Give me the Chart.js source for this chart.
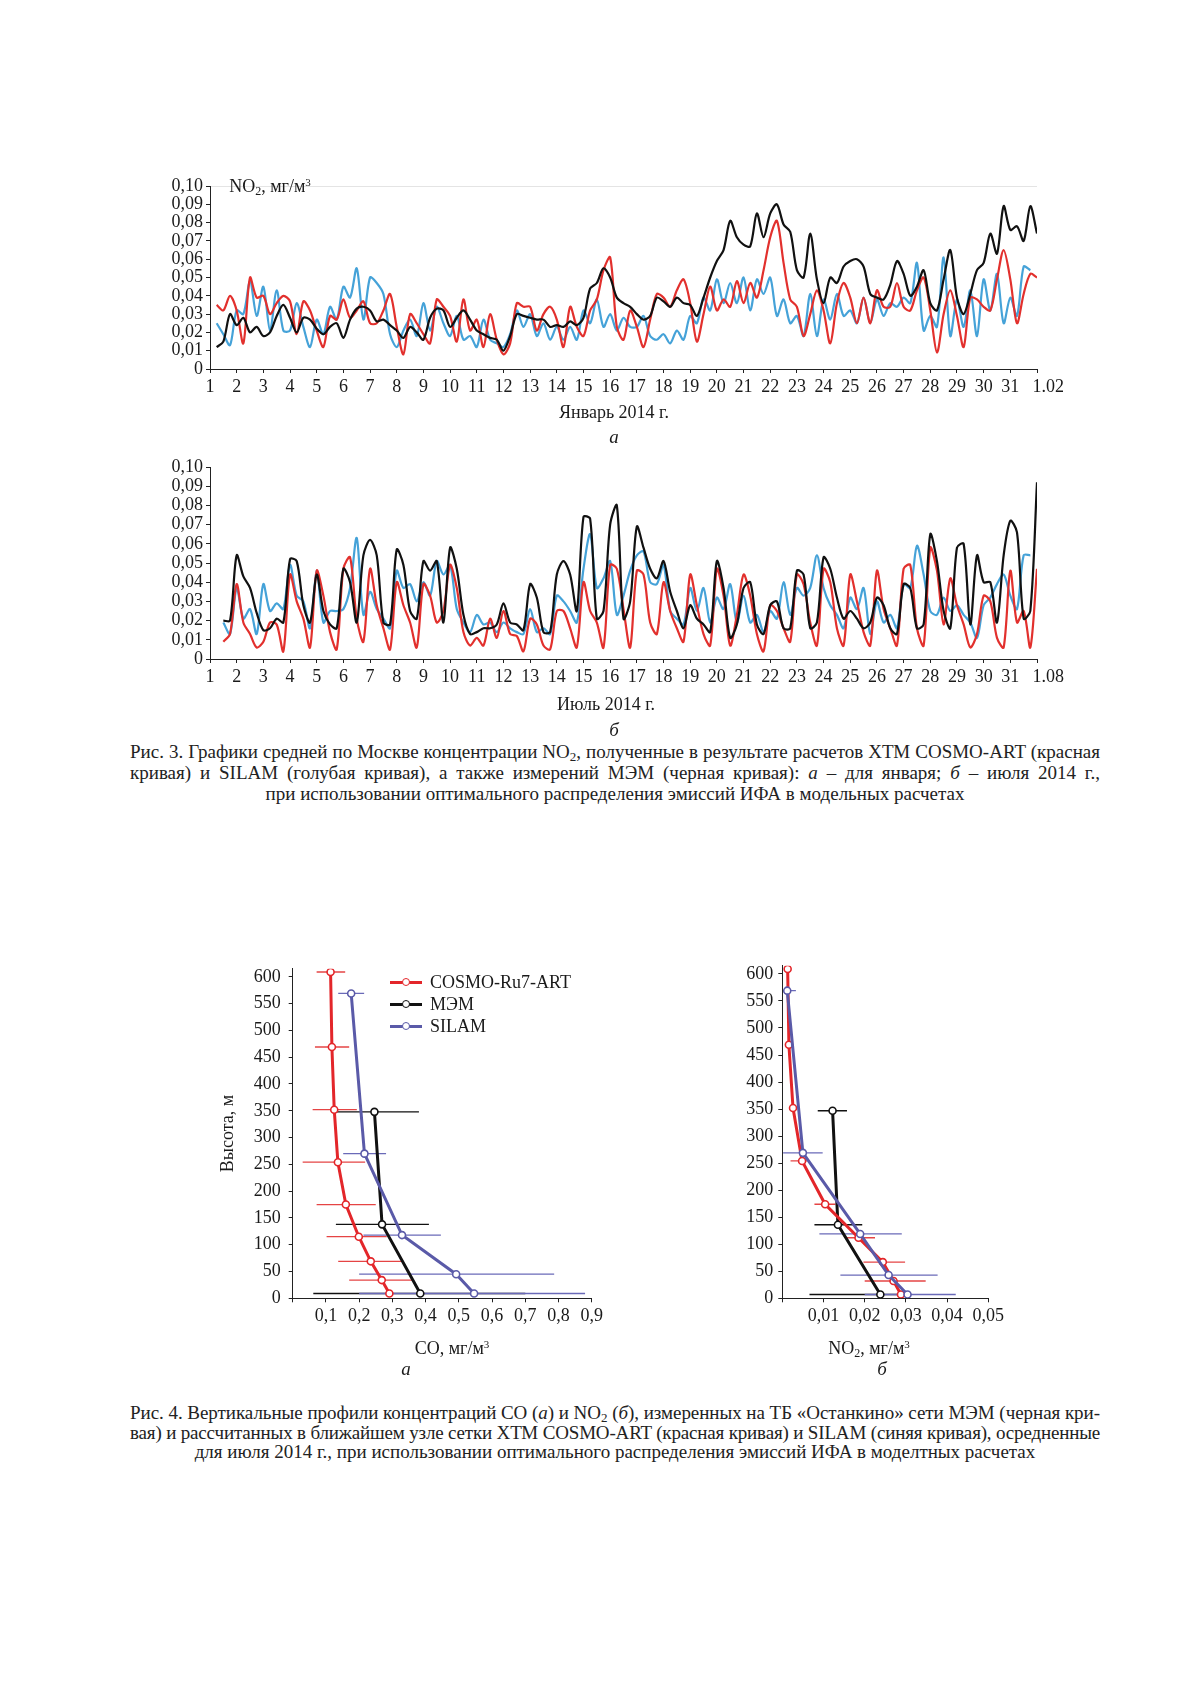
<!DOCTYPE html>
<html lang="ru">
<head>
<meta charset="utf-8">
<title>NO2 и CO, Москва 2014</title>
<script src="https://cdn.jsdelivr.net/npm/chart.js@4.4.1/dist/chart.umd.min.js"></script>
<style>
  html, body { margin: 0; padding: 0; background: #fff; }
  #page { position: relative; width: 1200px; height: 1698px; background: #fff; font-family: 'Liberation Serif', serif; color: #1a1a1a; }
  canvas { position: absolute; }
  .lbl { position: absolute; transform: translate(-50%, -50%); white-space: nowrap; font-size: 18px; line-height: 1; }
  .letter { font-style: italic; font-size: 19px; }
  sub, sup { line-height: 0; }
  .caption { position: absolute; left: 130px; width: 970px; font-size: 19px; color: #222; }
  .caption div { text-align: justify; text-align-last: justify; white-space: nowrap; }
  .caption div.last { text-align: center; text-align-last: center; }
  .caption sub { font-size: 13px; vertical-align: -3px; }
  #legend { position: absolute; left: 390px; top: 972px; font-size: 18px; }
  .lg { height: 21.7px; display: flex; align-items: center; }
  .sw { position: relative; width: 32px; height: 3px; margin-right: 8px; background: var(--c); }
  .sw::after { content: ''; position: absolute; left: 50%; top: 50%; width: 6px; height: 6px; margin: -4.5px 0 0 -4.5px;
               border: 1.5px solid var(--c); border-radius: 50%; background: #fff; }
</style>
</head>
<body>
<div id="page">
  <canvas id="janChart" width="940" height="260" style="left:150px;top:170px"></canvas>
  <span class="lbl" style="left:270px;top:186px">NO<sub style="font-size:12px;vertical-align:-3px">2</sub>, мг/м<sup style="font-size:11px;vertical-align:6px">3</sup></span>
  <span class="lbl" style="left:614px;top:412px">Январь 2014 г.</span>
  <span class="lbl letter" style="left:614px;top:436px">а</span>

  <canvas id="julChart" width="940" height="271" style="left:150px;top:451px"></canvas>
  <span class="lbl" style="left:606px;top:704px">Июль 2014 г.</span>
  <span class="lbl letter" style="left:614px;top:729px">б</span>

  <div class="caption" style="top:741px;line-height:21px">
    <div>Рис. 3. Графики средней по Москве концентрации NO<sub>2</sub>, полученные в результате расчетов ХТМ COSMO-ART (красная</div>
    <div>кривая) и SILAM (голубая кривая), а также измерений МЭМ (черная кривая): <i>а</i> – для января; <i>б</i> – июля 2014 г.,</div>
    <div class="last">при использовании оптимального распределения эмиссий ИФА в модельных расчетах</div>
  </div>

  <canvas id="coChart" width="410" height="411" style="left:200px;top:950px"></canvas>
  <div id="legend">
    <div class="lg"><span class="sw" style="--c:#e3262a"></span>COSMO-Ru7-ART</div>
    <div class="lg"><span class="sw" style="--c:#111"></span>МЭМ</div>
    <div class="lg"><span class="sw" style="--c:#5a5aa8"></span>SILAM</div>
  </div>
  <span class="lbl" style="left:452px;top:1348px">CO, мг/м<sup style="font-size:11px;vertical-align:6px">3</sup></span>
  <span class="lbl letter" style="left:406px;top:1368px">а</span>

  <canvas id="no2Chart" width="290" height="411" style="left:720px;top:950px"></canvas>
  <span class="lbl" style="left:869px;top:1348px">NO<sub style="font-size:12px;vertical-align:-3px">2</sub>, мг/м<sup style="font-size:11px;vertical-align:6px">3</sup></span>
  <span class="lbl letter" style="left:882px;top:1368px">б</span>

  <div class="caption" style="top:1403px;line-height:19.5px">
    <div>Рис. 4. Вертикальные профили концентраций CO (<i>а</i>) и NO<sub>2</sub> (<i>б</i>), измеренных на ТБ «Останкино» сети МЭМ (черная кри-</div>
    <div>вая) и рассчитанных в ближайшем узле сетки ХТМ COSMO-ART (красная кривая) и SILAM (синяя кривая), осредненные</div>
    <div class="last">для июля 2014 г., при использовании оптимального распределения эмиссий ИФА в моделтных расчетах</div>
  </div>
</div>

<script>
// time axis: days of month, 4 readings per day from x.25 to (x+1).00
const days = Array.from({length: 124}, (_, i) => 1.25 + i * 0.25);

// January 2014, NO2 mg/m3 (one row = one day)
const janBlack = [
  0.012,0.015,0.030,0.024, 0.028,0.020,0.023,0.018, 0.020,0.029,0.035,0.028, 0.020,0.028,0.027,0.022,
  0.019,0.023,0.025,0.017, 0.027,0.033,0.034,0.032, 0.026,0.027,0.024,0.021, 0.017,0.023,0.020,0.016,
  0.028,0.033,0.032,0.023, 0.028,0.032,0.027,0.021, 0.019,0.017,0.016,0.010, 0.018,0.030,0.029,0.028,
  0.027,0.027,0.023,0.024, 0.023,0.026,0.024,0.028, 0.044,0.047,0.055,0.050, 0.039,0.036,0.034,0.030,
  0.027,0.029,0.039,0.037, 0.034,0.039,0.036,0.035, 0.029,0.039,0.050,0.059, 0.065,0.081,0.072,0.068,
  0.067,0.085,0.072,0.085, 0.090,0.079,0.075,0.054, 0.050,0.074,0.049,0.036, 0.050,0.047,0.056,0.059,
  0.060,0.056,0.041,0.039, 0.038,0.046,0.059,0.052, 0.040,0.045,0.054,0.036, 0.032,0.049,0.065,0.039,
  0.030,0.041,0.054,0.058, 0.074,0.063,0.089,0.076, 0.078,0.070,0.089,0.074
];
const janRed = [
  0.035,0.032,0.040,0.032, 0.014,0.050,0.039,0.040, 0.030,0.036,0.040,0.037, 0.019,0.037,0.032,0.021,
  0.012,0.029,0.027,0.038, 0.028,0.032,0.037,0.025, 0.025,0.032,0.041,0.023, 0.008,0.030,0.025,0.019,
  0.014,0.038,0.034,0.029, 0.015,0.038,0.021,0.027, 0.012,0.030,0.016,0.008, 0.014,0.036,0.034,0.034,
  0.021,0.030,0.034,0.027, 0.012,0.034,0.023,0.018, 0.032,0.038,0.054,0.061, 0.023,0.016,0.032,0.023,
  0.012,0.027,0.041,0.039, 0.034,0.043,0.049,0.036, 0.015,0.030,0.045,0.032, 0.038,0.034,0.048,0.036,
  0.047,0.039,0.054,0.072, 0.081,0.058,0.038,0.034, 0.018,0.030,0.043,0.032, 0.014,0.036,0.047,0.039,
  0.025,0.039,0.025,0.043, 0.034,0.034,0.047,0.034, 0.032,0.043,0.050,0.032, 0.009,0.030,0.043,0.029,
  0.012,0.039,0.038,0.034, 0.032,0.049,0.065,0.049, 0.025,0.041,0.052,0.050
];
const janBlue = [
  0.025,0.019,0.013,0.032, 0.030,0.048,0.029,0.045, 0.021,0.043,0.021,0.021, 0.036,0.023,0.012,0.027,
  0.019,0.034,0.027,0.045, 0.039,0.055,0.027,0.050, 0.047,0.041,0.019,0.012, 0.021,0.027,0.018,0.036,
  0.021,0.034,0.025,0.018, 0.029,0.016,0.018,0.012, 0.027,0.016,0.014,0.012, 0.019,0.032,0.023,0.030,
  0.018,0.025,0.016,0.023, 0.016,0.023,0.016,0.032, 0.025,0.038,0.023,0.030, 0.021,0.028,0.023,0.023,
  0.029,0.018,0.016,0.019, 0.014,0.021,0.016,0.029, 0.025,0.039,0.032,0.049, 0.036,0.047,0.036,0.050,
  0.032,0.049,0.041,0.050, 0.029,0.038,0.025,0.029, 0.018,0.041,0.018,0.038, 0.027,0.041,0.029,0.032,
  0.025,0.039,0.025,0.038, 0.029,0.036,0.034,0.039, 0.036,0.058,0.021,0.029, 0.023,0.061,0.018,0.038,
  0.023,0.043,0.018,0.049, 0.032,0.052,0.025,0.039, 0.029,0.056,0.054,null
];

// July 2014, NO2 mg/m3
const julBlack = [
  null,0.020,0.020,0.054, 0.043,0.037,0.024,0.015, 0.016,0.021,0.019,0.052, 0.051,0.028,0.019,0.044,
  0.025,0.018,0.016,0.047, 0.040,0.019,0.054,0.062, 0.054,0.019,0.018,0.057, 0.049,0.025,0.021,0.051,
  0.046,0.051,0.019,0.058, 0.047,0.023,0.013,0.014, 0.016,0.016,0.018,0.029, 0.019,0.018,0.015,0.039,
  0.032,0.014,0.014,0.044, 0.051,0.044,0.025,0.074, 0.073,0.021,0.025,0.070, 0.080,0.021,0.030,0.069,
  0.058,0.047,0.042,0.051, 0.035,0.025,0.016,0.028, 0.021,0.018,0.014,0.051, 0.037,0.011,0.018,0.037,
  0.040,0.018,0.013,0.028, 0.030,0.016,0.016,0.046, 0.044,0.016,0.019,0.053, 0.047,0.032,0.021,0.025,
  0.021,0.016,0.019,0.032, 0.028,0.016,0.013,0.039, 0.037,0.016,0.018,0.065, 0.051,0.025,0.016,0.058,
  0.060,0.018,0.054,0.040, 0.040,0.019,0.054,0.072, 0.066,0.021,0.025,0.092
];
const julRed = [
  null,0.009,0.013,0.039, 0.019,0.013,0.006,0.009, 0.019,0.018,0.004,0.044, 0.030,0.021,0.006,0.046,
  0.033,0.014,0.005,0.047, 0.053,0.021,0.009,0.047, 0.028,0.016,0.005,0.040, 0.028,0.019,0.006,0.039,
  0.033,0.019,0.025,0.049, 0.037,0.014,0.007,0.011, 0.007,0.021,0.011,0.025, 0.013,0.012,0.004,0.021,
  0.018,0.007,0.005,0.025, 0.025,0.016,0.006,0.040, 0.025,0.019,0.006,0.049, 0.047,0.026,0.006,0.046,
  0.044,0.019,0.013,0.040, 0.025,0.016,0.009,0.044, 0.028,0.013,0.007,0.047, 0.033,0.007,0.023,0.044,
  0.033,0.013,0.004,0.028, 0.025,0.016,0.009,0.044, 0.039,0.019,0.007,0.047, 0.040,0.016,0.007,0.044,
  0.030,0.014,0.007,0.046, 0.026,0.016,0.007,0.047, 0.049,0.016,0.007,0.058, 0.046,0.018,0.042,0.028,
  0.018,0.006,0.013,0.033, 0.030,0.011,0.006,0.046, 0.019,0.025,0.006,0.047
];
const julBlue = [
  null,0.019,0.013,0.037, 0.021,0.026,0.013,0.039, 0.025,0.029,0.026,0.049, 0.033,0.030,0.016,0.046,
  0.019,0.025,0.025,0.026, 0.037,0.063,0.023,0.035, 0.026,0.021,0.016,0.046, 0.037,0.039,0.030,0.040,
  0.033,0.051,0.044,0.049, 0.026,0.019,0.014,0.023, 0.018,0.019,0.014,0.019, 0.016,0.014,0.013,0.026,
  0.014,0.016,0.013,0.033, 0.030,0.025,0.019,0.047, 0.065,0.037,0.042,0.051, 0.023,0.033,0.046,0.054,
  0.056,0.040,0.039,0.049, 0.025,0.021,0.018,0.037, 0.025,0.037,0.019,0.032, 0.026,0.039,0.019,0.033,
  0.019,0.023,0.014,0.025, 0.021,0.040,0.023,0.037, 0.033,0.037,0.054,0.037, 0.028,0.023,0.016,0.032,
  0.026,0.037,0.013,0.030, 0.019,0.023,0.016,0.039, 0.037,0.059,0.044,0.025, 0.023,0.032,0.025,0.028,
  0.023,0.019,0.011,0.028, 0.032,0.039,0.044,0.033, 0.026,0.054,0.054,null
];

// vertical profiles, July 2014: height (m), mean, error bar ends
const heightTicks = [0, 50, 100, 150, 200, 250, 300, 350, 400, 450, 500, 550, 600];
const coRedH  = [609, 469, 352, 254, 175, 115, 69, 34, 9];
const coRedX  = [0.114, 0.118, 0.125, 0.136, 0.160, 0.199, 0.235, 0.268, 0.291];
const coRedLo = [0.072, 0.067, 0.060, 0.030, 0.072, 0.102, 0.137, 0.170, null];
const coRedHi = [0.158, 0.170, 0.193, 0.218, 0.250, 0.283, 0.328, 0.363, null];
const coBlackH  = [348, 138, 9];
const coBlackX  = [0.246, 0.269, 0.384];
const coBlackLo = [0.132, 0.130, 0.062];
const coBlackHi = [0.380, 0.410, 0.700];
const coBlueH  = [569, 270, 118, 45, 9];
const coBlueX  = [0.176, 0.216, 0.329, 0.492, 0.546];
const coBlueLo = [0.137, 0.152, 0.213, 0.200, 0.200];
const coBlueHi = [0.215, 0.281, 0.446, 0.787, 0.880];

const noRedH  = [609, 469, 352, 254, 174, 112, 67, 32, 7];
const noRedX  = [0.0013, 0.0016, 0.0026, 0.0048, 0.0104, 0.0185, 0.0244, 0.0270, 0.0288];
const noRedLo = [null, null, null, 0.0020, 0.0078, 0.0153, 0.0197, 0.0200, null];
const noRedHi = [null, null, null, 0.0060, 0.0129, 0.0225, 0.0298, 0.0348, null];
const noBlackH  = [347, 136, 7];
const noBlackX  = [0.0122, 0.0135, 0.0238];
const noBlackLo = [0.0086, 0.0078, 0.0066];
const noBlackHi = [0.0157, 0.0194, 0.0300];
const noBlueH  = [569, 269, 119, 43, 7];
const noBlueX  = [0.0012, 0.0050, 0.0189, 0.0258, 0.0304];
const noBlueLo = [0.0002, 0.0002, 0.0090, 0.0141, 0.0200];
const noBlueHi = [0.0033, 0.0098, 0.0290, 0.0377, 0.0421];

Chart.defaults.font.family = "'Liberation Serif', serif";
Chart.defaults.font.size = 18;
Chart.defaults.color = '#1a1a1a';

const AXIS = '#222';
const RED = '#e2302d', BLACK = '#111', SKY = '#45a2d8';
const PRED = '#e3262a', PBLUE = '#5a5aa8';

function comma(v, d) { return v.toFixed(d).replace('.', ','); }

function series(vals, color) {
  return {
    data: vals.map((v, i) => ({x: days[i], y: v})),
    borderColor: color, borderWidth: 2.2, pointRadius: 0, tension: 0.3, spanGaps: false
  };
}

function timeChart(id, vals, lastLabel, axisH, topLine) {
  new Chart(document.getElementById(id), {
    type: 'line',
    data: { datasets: [series(vals[0], BLACK), series(vals[1], RED), series(vals[2], SKY)] },
    options: {
      responsive: false, animation: false, devicePixelRatio: 1,
      layout: { padding: { top: 16, right: 53, left: 0, bottom: 0 } },
      plugins: { legend: { display: false }, tooltip: { enabled: false } },
      scales: {
        x: {
          type: 'linear', min: 1, max: 32,
          afterFit: s => { s.height = axisH; },
          // the month-end label sits to the right of its tick
          ticks: { stepSize: 1, autoSkip: false, maxRotation: 0, padding: 3,
                   callback: v => v === 32 ? '     ' + lastLabel : String(v) },
          grid: { drawOnChartArea: false, tickLength: 4, color: AXIS },
          border: { color: AXIS, width: 1 }
        },
        y: {
          min: 0, max: 0.1,
          afterFit: s => { s.width = 60; },
          ticks: { stepSize: 0.01, autoSkip: false, padding: 3, callback: v => v === 0 ? '0' : comma(v, 2) },
          grid: { drawOnChartArea: topLine, tickLength: 4, tickColor: AXIS,
                  color: c => c.tick && Math.abs(c.tick.value - 0.1) < 1e-9 ? '#e4e4e4' : 'rgba(0,0,0,0)' },
          border: { color: AXIS, width: 1 }
        }
      }
    }
  });
}

timeChart('janChart', [janBlack, janRed, janBlue], '1.02', 61, true);
timeChart('julChart', [julBlack, julRed, julBlue], '1.08', 63, false);

function profile(xs, hs, color) {
  return {
    data: xs.map((x, i) => ({x: x, y: hs[i]})),
    showLine: true, borderColor: color, borderWidth: 3,
    pointRadius: 3.5, pointBackgroundColor: '#fff', pointBorderColor: color, pointBorderWidth: 1.6
  };
}

function errBars(hs, lo, hi, color, width) {
  const out = [];
  hs.forEach((h, i) => {
    if (lo[i] == null) return;
    out.push({
      data: [{x: lo[i], y: h}, {x: hi[i], y: h}],
      showLine: true, borderColor: color, borderWidth: width, pointRadius: 0
    });
  });
  return out;
}

function profileChart(id, sets, xMax, xStep, dec, yWidth, rightPad, yPad, yTitle) {
  new Chart(document.getElementById(id), {
    type: 'scatter',
    data: { datasets: sets },
    options: {
      responsive: false, animation: false, devicePixelRatio: 1,
      layout: { padding: { top: 15.2, right: rightPad, left: 0, bottom: 0 } },
      plugins: { legend: { display: false }, tooltip: { enabled: false } },
      scales: {
        x: {
          type: 'linear', min: 0, max: xMax,
          afterFit: s => { s.height = 62.7; },
          ticks: { stepSize: xStep, autoSkip: false, maxRotation: 0, padding: 3,
                   callback: v => v === 0 ? '' : comma(v, dec) },
          grid: { drawOnChartArea: false, tickLength: 4, color: AXIS },
          border: { color: AXIS, width: 1 }
        },
        y: {
          min: 0, max: 615,
          afterFit: s => { s.width = yWidth; },
          afterBuildTicks: s => { s.ticks = heightTicks.map(v => ({value: v})); },
          ticks: { autoSkip: false, padding: yPad },
          grid: { drawOnChartArea: false, tickLength: 4, color: AXIS },
          border: { color: AXIS, width: 1 },
          title: { display: !!yTitle, text: yTitle || '', font: { size: 18 }, padding: { top: 17, bottom: 0 } }
        }
      }
    }
  });
}

profileChart('coChart', [
  profile(coBlueX, coBlueH, PBLUE),
  profile(coRedX, coRedH, PRED),
  profile(coBlackX, coBlackH, BLACK),
  ...errBars(coBlueH, coBlueLo, coBlueHi, '#6a6ab8', 1.3),
  ...errBars(coRedH, coRedLo, coRedHi, '#e54444', 1.3),
  ...errBars(coBlackH, coBlackLo, coBlackHi, BLACK, 1.4)
], 0.9, 0.1, 1, 92.7, 18.3, 8, 'Высота, м');

profileChart('no2Chart', [
  profile(noBlueX, noBlueH, PBLUE),
  profile(noRedX, noRedH, PRED),
  profile(noBlackX, noBlackH, BLACK),
  ...errBars(noBlueH, noBlueLo, noBlueHi, '#6a6ab8', 1.3),
  ...errBars(noRedH, noRedLo, noRedHi, '#e54444', 1.3),
  ...errBars(noBlackH, noBlackLo, noBlackHi, BLACK, 1.4)
], 0.05, 0.01, 2, 62.3, 21.7, 5, null);

// squeeze a caption line slightly if it is wider than the column
document.querySelectorAll('.caption div').forEach(d => {
  const over = d.scrollWidth - d.clientWidth;
  if (over > 0) d.style.letterSpacing = (-over / d.textContent.length).toFixed(3) + 'px';
});
</script>
</body>
</html>
